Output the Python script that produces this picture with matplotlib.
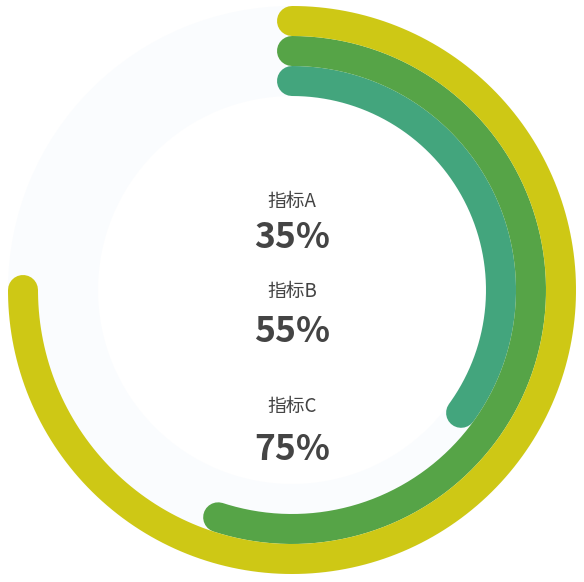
import numpy as np
import matplotlib
matplotlib.use("Agg")
import matplotlib.pyplot as plt
from matplotlib.patches import Wedge

plt.rcParams['font.family'] = ['Noto Sans CJK SC', 'DejaVu Sans']

labels = ['指标A', '指标B', '指标C']
values = [35, 55, 75]
colors = ['#43A57D', '#56A447', '#CEC815']

W, H = 584, 582
dpi = 100
fig = plt.figure(figsize=(W / dpi, H / dpi), dpi=dpi)
ax = fig.add_axes([0, 0, 1, 1])
ax.set_xlim(0, W)
ax.set_ylim(H, 0)
ax.set_aspect('equal')
ax.axis('off')

cx, cy = 292, 290
band = 30
r_inner = 209
radii = [r_inner + i * band for i in range(len(values))]

# background track
ax.add_patch(Wedge((cx, cy), radii[-1] + band / 2, 0, 360,
                   width=len(values) * band, facecolor='#FAFCFE', edgecolor='none'))

lw_pt = band * 72 / dpi
for v, r, c in zip(values, radii, colors):
    theta = np.linspace(0, 2 * np.pi * v / 100, 400)
    x = cx + r * np.sin(theta)
    y = cy - r * np.cos(theta)
    ax.plot(x, y, color=c, lw=lw_pt, solid_capstyle='round')

label_y = [201, 291, 406]
value_y = [237, 331, 449]
for lab, v, ly, vy in zip(labels, values, label_y, value_y):
    ax.text(cx, ly, lab, ha='center', va='center', fontsize=13.5, color='#444444')
    ax.text(cx, vy, f'{v}%', ha='center', va='center', fontsize=25.5,
            fontweight='bold', color='#444444')

fig.savefig('out.png', dpi=dpi)
